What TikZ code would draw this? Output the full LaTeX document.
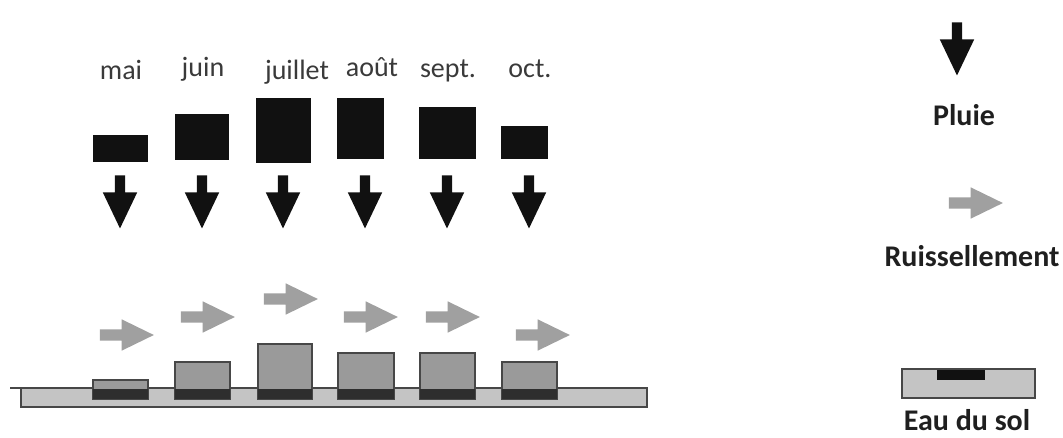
\documentclass[tikz,border=0pt]{standalone}
\usepackage{fontspec}
\setmainfont{Carlito}
\usepackage{tikz}
\usetikzlibrary{shapes.arrows}
\definecolor{rainblack}{HTML}{111111}
\definecolor{runoffgray}{HTML}{A0A0A0}
\definecolor{boxgray}{HTML}{9A9A9A}
\definecolor{soilgray}{HTML}{C4C4C4}
\definecolor{edgegray}{HTML}{474747}
\definecolor{waterdark}{HTML}{2E2E2E}
\definecolor{labelgray}{HTML}{3A3A3A}
\tikzstyle{rain}=[single arrow,fill=rainblack,rotate=-90,minimum height=53pt,single arrow head extend=12pt,single arrow tip angle=51,inner xsep=0pt,inner ysep=5pt]
\tikzstyle{runoff}=[single arrow,fill=runoffgray,minimum height=54pt,single arrow head extend=10pt,single arrow tip angle=52,inner xsep=0pt,inner ysep=5.5pt]
\tikzstyle{month}=[text=labelgray,font=\fontsize{28}{30}\selectfont,anchor=base,inner sep=0pt]
\tikzstyle{legend}=[text=black!88,font=\fontsize{30}{32}\selectfont\bfseries,anchor=base,inner sep=0pt]
\tikzstyle{water}=[fill=boxgray,draw=edgegray,line width=1.2pt]
\tikzstyle{soil}=[fill=soilgray,draw=edgegray,line width=2pt]

\begin{document}
\begin{tikzpicture}[x=1pt,y=-1pt]
\useasboundingbox (0,0) rectangle (1063,437);
% month labels
\node [month] (mai) at (121,79) {mai};
\node [month] (juin) at (203,76) {juin};
\node [month] (juillet) at (297,79) {juillet};
\node [month] (aout) at (372,76) {août};
\node [month] (sept) at (448,77) {sept.};
\node [month] (oct) at (530,77) {oct.};
% rain per month
\fill [rainblack] (93,135) rectangle (148,162);
\fill [rainblack] (175,114) rectangle (229,160);
\fill [rainblack] (256,98) rectangle (311,163);
\fill [rainblack] (337,98) rectangle (384,159);
\fill [rainblack] (419,107) rectangle (476,159);
\fill [rainblack] (501,126) rectangle (548,159);
\node [rain] (rmai) at (120,196.5) {};
\node [rain] (rjuin) at (202,196.5) {};
\node [rain] (rjuillet) at (283,196.5) {};
\node [rain] (raout) at (365,196.5) {};
\node [rain] (rsept) at (447,196.5) {};
\node [rain] (roct) at (529,196.5) {};
% runoff
\node [runoff] (smai) at (121,335) {};
\node [runoff] (sjuin) at (202,317) {};
\node [runoff] (sjuillet) at (285,299) {};
\node [runoff] (saout) at (365,317) {};
\node [runoff] (ssept) at (447,317) {};
\node [runoff] (soct) at (537,335) {};
% ground
\draw [edgegray,line width=2pt] (10,388) -- (21,388);
\draw [soil] (21,388) rectangle (647,407);
% soil water
\draw [water] (93,380) rectangle (148,399);
\draw [water] (175,362) rectangle (230,399);
\draw [water] (258,344) rectangle (312,399);
\draw [water] (338,353) rectangle (394,399);
\draw [water] (420,353) rectangle (475,399);
\draw [water] (502,362) rectangle (557,399);
\fill [waterdark] (93,389) rectangle (148,399);
\fill [waterdark] (175,389) rectangle (230,399);
\fill [waterdark] (258,389) rectangle (312,399);
\fill [waterdark] (338,389) rectangle (394,399);
\fill [waterdark] (420,389) rectangle (475,399);
\fill [waterdark] (502,389) rectangle (557,399);
% legend
\node [rain] (lrain) at (957,43.5) {};
\node [legend] (pluie) at (964,125) {Pluie};
\node [runoff] (lrunoff) at (970,203) {};
\node [legend] (ruiss) at (972,266) {Ruissellement};
\draw [soil] (902,369) rectangle (1035,398);
\fill [rainblack] (937,370) rectangle (985,380);
\node [legend] (eau) at (967,430) {Eau du sol};
\end{tikzpicture}
\end{document}
